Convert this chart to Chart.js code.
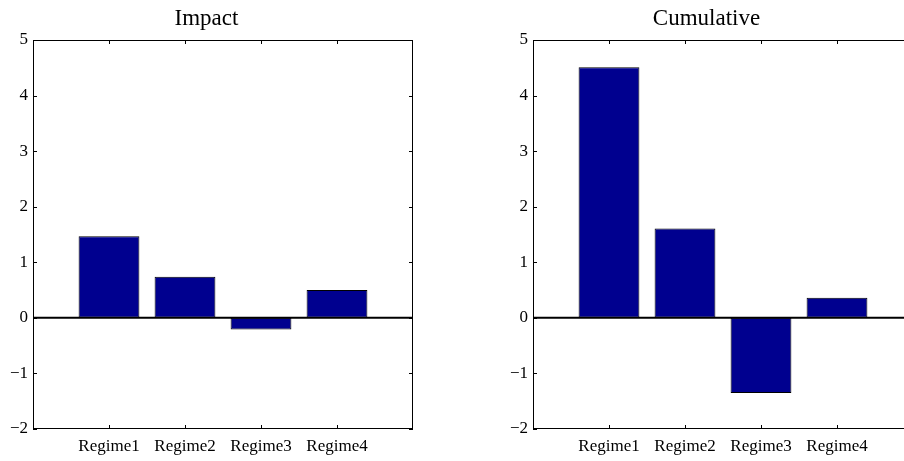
<!DOCTYPE html>
<html>
<head>
<meta charset="utf-8">
<title>Regime responses</title>
<script src="https://cdn.jsdelivr.net/npm/chart.js@4/dist/chart.umd.min.js"></script>
<style>
  html, body { margin: 0; padding: 0; background: #fff; width: 904px; height: 461px; overflow: hidden; }
  .panel { position: absolute; top: 0; }
  #impactPanel { left: 0; }
  #cumulativePanel { left: 500px; }
</style>
</head>
<body>
<div class="panel" id="impactPanel"><canvas id="impactChart" width="446" height="461"></canvas></div>
<div class="panel" id="cumulativePanel"><canvas id="cumulativeChart" width="446" height="461"></canvas></div>
<script>
const regimes = ['Regime1', 'Regime2', 'Regime3', 'Regime4'];
const impactValues = [1.47, 0.74, -0.21, 0.50];
const cumulativeValues = [4.51, 1.61, -1.35, 0.36];
const yTicks = [-2, -1, 0, 1, 2, 3, 4, 5];

const FONT = 'Liberation Serif, Times New Roman, serif';
const BAR_COLOR = '#00008f';

// frame, inward ticks on all four sides and the heavy zero line
const boxPlugin = {
    id: 'box',
    afterDatasetsDraw(chart) {
        const { ctx, chartArea: a, scales: { x, y } } = chart;
        const len = 4;
        ctx.save();
        ctx.strokeStyle = '#000';

        ctx.lineWidth = 2;
        const y0 = y.getPixelForValue(0);
        ctx.beginPath();
        ctx.moveTo(a.left, y0);
        ctx.lineTo(a.right, y0);
        ctx.stroke();

        ctx.lineWidth = 1;
        ctx.strokeRect(Math.round(a.left) + 0.5, Math.round(a.top) + 0.5,
            Math.round(a.width) - 1, Math.round(a.height) - 1);

        ctx.beginPath();
        yTicks.forEach(v => {
            const py = Math.round(y.getPixelForValue(v)) + 0.5;
            ctx.moveTo(a.left, py); ctx.lineTo(a.left + len, py);
            ctx.moveTo(a.right, py); ctx.lineTo(a.right - len, py);
        });
        regimes.forEach((r, i) => {
            const px = Math.round(x.getPixelForValue(i + 1)) + 0.5;
            ctx.moveTo(px, a.top); ctx.lineTo(px, a.top + len);
            ctx.moveTo(px, a.bottom); ctx.lineTo(px, a.bottom - len);
        });
        ctx.stroke();
        ctx.restore();
    }
};

function makeChart(canvasId, title, values) {
    const ctx = document.getElementById(canvasId).getContext('2d');
    return new Chart(ctx, {
        type: 'bar',
        data: {
            datasets: [{
                data: values.map((v, i) => ({ x: i + 1, y: v })),
                backgroundColor: BAR_COLOR,
                borderColor: '#000',
                borderWidth: 1,
                borderSkipped: false,
                categoryPercentage: 1,
                barPercentage: 0.8
            }]
        },
        options: {
            responsive: false,
            animation: false,
            layout: { padding: { left: 0, right: 33, top: 0, bottom: 0 } },
            plugins: {
                legend: { display: false },
                tooltip: { enabled: false },
                title: {
                    display: true,
                    text: title,
                    color: '#000',
                    font: { family: FONT, size: 23, weight: 'normal', lineHeight: 1.2 },
                    padding: { top: 5, bottom: 7.4 }
                }
            },
            scales: {
                x: {
                    type: 'linear',
                    min: 0,
                    max: 5,
                    offset: false,
                    grid: { display: false, drawTicks: false },
                    border: { display: false },
                    afterBuildTicks: s => { s.ticks = regimes.map((r, i) => ({ value: i + 1 })); },
                    afterFit: s => { s.height = 32; },
                    ticks: {
                        color: '#000',
                        padding: 7,
                        maxRotation: 0,
                        autoSkip: false,
                        font: { family: FONT, size: 17 },
                        callback: v => regimes[v - 1] || ''
                    }
                },
                y: {
                    min: -2,
                    max: 5,
                    grid: { display: false, drawTicks: false },
                    border: { display: false },
                    afterBuildTicks: s => { s.ticks = yTicks.map(v => ({ value: v })); },
                    afterFit: s => { s.width = 33; },
                    ticks: {
                        color: '#000',
                        padding: 5,
                        font: { family: FONT, size: 17 },
                        callback: v => v < 0 ? '\u2212' + Math.abs(v) : String(v)
                    }
                }
            }
        },
        plugins: [boxPlugin]
    });
}

makeChart('impactChart', 'Impact', impactValues);
makeChart('cumulativeChart', 'Cumulative', cumulativeValues);
</script>
</body>
</html>
